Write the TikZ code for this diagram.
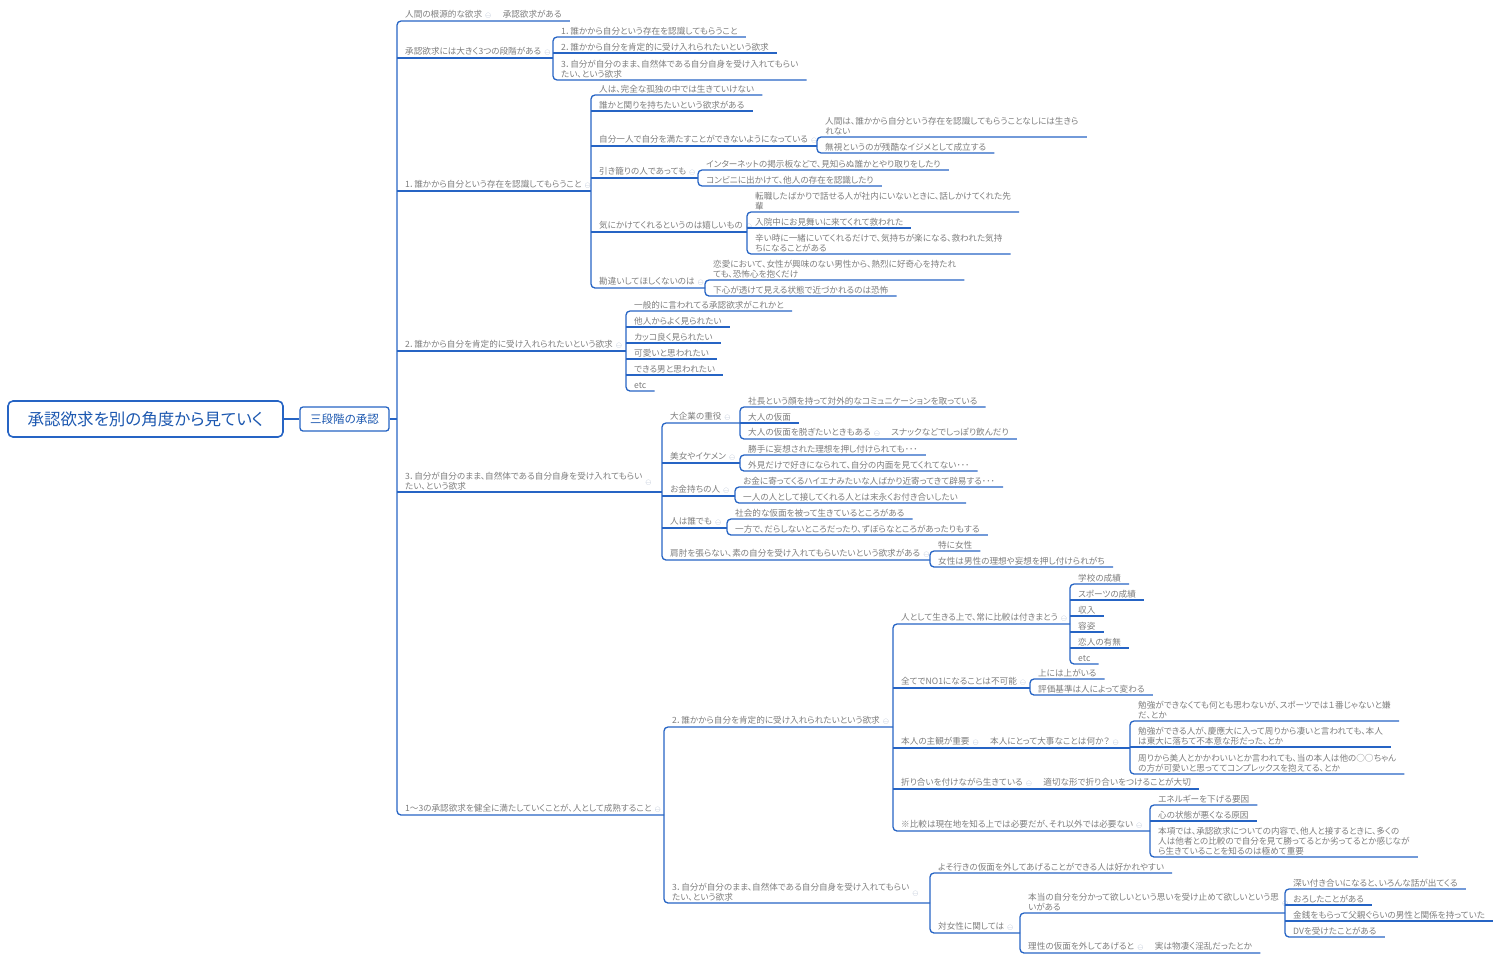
\documentclass[tikz,border=0pt]{standalone}
\usepackage{fontspec}
\setmainfont{Noto Sans CJK JP}[RawFeature=+palt]
\usetikzlibrary{positioning}

\definecolor{lineblue}{RGB}{38,100,196}
\definecolor{txtgray}{RGB}{125,125,125}
\definecolor{titleblue}{RGB}{28,88,176}
\definecolor{foldgray}{RGB}{165,178,200}

\newcommand\fold{\hspace{3pt}\textcolor{foldgray}{\scriptsize$\ominus$}}
\newcommand\foldlow{\hspace{3pt}\raisebox{-5pt}[0pt][0pt]{\textcolor{foldgray}{\scriptsize$\ominus$}}}

\tikzset{
  topic/.style={anchor=south west, inner xsep=8pt, inner ysep=2pt, text=txtgray, align=left,
    font=\fontsize{8.6}{10}\selectfont},
  link/.style={draw=lineblue, line width=1.3pt, rounded corners=4pt},
  rootbox/.style={draw=lineblue, line width=1.6pt, rounded corners=5pt, fill=white, text=titleblue,
    minimum width=275pt, minimum height=36pt, font=\fontsize{16.5}{18}\selectfont},
  midbox/.style={draw=lineblue, line width=1.3pt, rounded corners=3pt, fill=white, text=titleblue,
    minimum width=89pt, minimum height=24pt, font=\fontsize{11.5}{13}\selectfont}
}

\begin{document}
\begin{tikzpicture}[x=1pt, y=-1pt]
\useasboundingbox (0,0) rectangle (1497,962);

% centre
\node[rootbox] (root) at (145.5,419) {承認欲求を別の角度から見ていく};
\node[midbox] (mid) at (344.5,419) {三段階の承認};

% first level
\node[topic] (a1) at (397,21) {人間の根源的な欲求\fold};
\node[topic, base right=-5pt of a1] (a1c) {承認欲求がある};
\node[topic] (a2) at (397,58) {承認欲求には大きく3つの段階がある\fold};
\node[topic] (a3) at (397,191) {1．誰かから自分という存在を認識してもらうこと\fold};
\node[topic] (a4) at (397,351) {2．誰かから自分を肯定的に受け入れられたいという欲求\fold};
\node[topic] (a5) at (397,492) {3．自分が自分のまま、自然体である自分自身を受け入れてもらい\foldlow\\たい、という欲求};
\node[topic] (a6) at (397,815) {1～3の承認欲求を健全に満たしていくことが、人として成熟すること\fold};

% three steps
\node[topic] (b1) at (553,37) {1．誰かから自分という存在を認識してもらうこと};
\node[topic] (b2) at (553,53) {2．誰かから自分を肯定的に受け入れられたいという欲求};
\node[topic] (b3) at (553,80) {3．自分が自分のまま、自然体である自分自身を受け入れてもらい\\たい、という欲求};

% step 1
\node[topic] (c1) at (591,95) {人は、完全な孤独の中では生きていけない};
\node[topic] (c2) at (591,111) {誰かと関りを持ちたいという欲求がある};
\node[topic] (c3) at (591,146) {自分一人で自分を満たすことができないようになっている\fold};
\node[topic] (c3a) at (817,137) {人間は、誰かから自分という存在を認識してもらうことなしには生きら\\れない};
\node[topic] (c3b) at (817,153) {無視というのが残酷なイジメとして成立する};
\node[topic] (c4) at (591,178) {引き籠りの人であっても\fold};
\node[topic] (c4a) at (698,170) {インターネットの掲示板などで、見知らぬ誰かとやり取りをしたり};
\node[topic] (c4b) at (698,186) {コンビニに出かけて、他人の存在を認識したり};
\node[topic] (c5) at (591,232) {気にかけてくれるというのは嬉しいもの\fold};
\node[topic] (c5a) at (747,212) {転職したばかりで話せる人が社内にいないときに、話しかけてくれた先\\輩};
\node[topic] (c5b) at (747,228) {入院中にお見舞いに来てくれて救われた};
\node[topic] (c5c) at (747,254) {辛い時に一緒にいてくれるだけで、気持ちが楽になる、救われた気持\\ちになることがある};
\node[topic] (c6) at (591,288) {勘違いしてほしくないのは\fold};
\node[topic] (c6a) at (705,280) {恋愛において、女性が興味のない男性から、熱烈に好奇心を持たれ\\ても、恐怖心を抱くだけ};
\node[topic] (c6b) at (705,296) {下心が透けて見える状態で近づかれるのは恐怖};

% step 2
\node[topic] (d1) at (626,311) {一般的に言われてる承認欲求がこれかと};
\node[topic] (d2) at (626,327) {他人からよく見られたい};
\node[topic] (d3) at (626,343) {カッコ良く見られたい};
\node[topic] (d4) at (626,359) {可愛いと思われたい};
\node[topic] (d5) at (626,375) {できる男と思われたい};
\node[topic] (d6) at (626,391) {etc};

% step 3
\node[topic] (e1) at (662,423) {大企業の重役\fold};
\node[topic] (e1a) at (740,407) {社長という顔を持って対外的なコミュニケーションを取っている};
\node[topic] (e1b) at (740,423) {大人の仮面};
\node[topic] (e1c) at (740,439) {大人の仮面を脱ぎたいときもある\fold};
\node[topic, base right=-5pt of e1c] (e1d) {スナックなどでしっぽり飲んだり};
\node[topic] (e2) at (662,463) {美女やイケメン\fold};
\node[topic] (e2a) at (740,455) {勝手に妄想された理想を押し付けられても･･･};
\node[topic] (e2b) at (740,471) {外見だけで好きになられて、自分の内面を見てくれてない･･･};
\node[topic] (e3) at (662,496) {お金持ちの人\fold};
\node[topic] (e3a) at (735,487) {お金に寄ってくるハイエナみたいな人ばかり近寄ってきて辟易する･･･};
\node[topic] (e3b) at (735,503) {一人の人として接してくれる人とは末永くお付き合いしたい};
\node[topic] (e4) at (662,528) {人は誰でも\fold};
\node[topic] (e4a) at (727,519) {社会的な仮面を被って生きているところがある};
\node[topic] (e4b) at (727,535) {一方で、だらしないところだったり、ずぼらなところがあったりもする};
\node[topic] (e5) at (662,560) {肩肘を張らない、素の自分を受け入れてもらいたいという欲求がある\fold};
\node[topic] (e5a) at (930,551) {特に女性};
\node[topic] (e5b) at (930,567) {女性は男性の理想や妄想を押し付けられがち};

% maturity
\node[topic] (f1) at (664,727) {2．誰かから自分を肯定的に受け入れられたいという欲求\fold};
\node[topic] (g1) at (893,624) {人として生きる上で、常に比較は付きまとう\fold};
\node[topic] (g1a) at (1070,584) {学校の成績};
\node[topic] (g1b) at (1070,600) {スポーツの成績};
\node[topic] (g1c) at (1070,616) {収入};
\node[topic] (g1d) at (1070,632) {容姿};
\node[topic] (g1e) at (1070,648) {恋人の有無};
\node[topic] (g1f) at (1070,664) {etc};
\node[topic] (g2) at (893,688) {全てでNO1になることは不可能\fold};
\node[topic] (g2a) at (1030,679) {上には上がいる};
\node[topic] (g2b) at (1030,695) {評価基準は人によって変わる};
\node[topic] (g3) at (893,748) {本人の主観が重要\fold};
\node[topic, base right=-5pt of g3] (g3i) {本人にとって大事なことは何か？\fold};
\node[topic] (g3a) at (1130,721) {勉強ができなくても何とも思わないが、スポーツでは１番じゃないと嫌\\だ、とか};
\node[topic] (g3b) at (1130,747) {勉強ができる人が、慶應大に入って周りから凄いと言われても、本人\\は東大に落ちて不本意な形だった、とか};
\node[topic] (g3c) at (1130,774) {周りから美人とかかわいいとか言われても、当の本人は他の○○ちゃん\\の方が可愛いと思っててコンプレックスを抱えてる、とか};
\node[topic] (g4) at (893,789) {折り合いを付けながら生きている\fold};
\node[topic, base right=-5pt of g4] (g4i) {適切な形で折り合いをつけることが大切};
\node[topic] (g5) at (893,831) {※比較は現在地を知る上では必要だが、それ以外では必要ない\fold};
\node[topic] (g5a) at (1150,805) {エネルギーを下げる要因};
\node[topic] (g5b) at (1150,821) {心の状態が悪くなる原因};
\node[topic] (g5c) at (1150,857) {本項では、承認欲求についての内容で、他人と接するときに、多くの\\人は他者との比較ので自分を見て勝ってるとか劣ってるとか感じなが\\ら生きていることを知るのは極めて重要};
\node[topic] (f2) at (664,903) {3．自分が自分のまま、自然体である自分自身を受け入れてもらい\foldlow\\たい、という欲求};
\node[topic] (h1) at (930,873) {よそ行きの仮面を外してあげることができる人は好かれやすい};
\node[topic] (h2) at (930,933) {対女性に関しては\fold};
\node[topic] (h2a) at (1020,913) {本当の自分を分かって欲しいという思いを受け止めて欲しいという思\foldlow\\いがある};
\node[topic] (k1) at (1285,889) {深い付き合いになると、いろんな話が出てくる};
\node[topic] (k2) at (1285,905) {おろしたことがある};
\node[topic] (k3) at (1285,921) {金銭をもらって父親ぐらいの男性と関係を持っていた};
\node[topic] (k4) at (1285,937) {DVを受けたことがある};
\node[topic] (h2b) at (1020,953) {理性の仮面を外してあげると\fold};
\node[topic, base right=-5pt of h2b] (h2c) {実は物凄く淫乱だったとか};

% connectors
\draw[link] (root) -- (mid);
\draw[link] (mid.east) -- (a1.south west |- mid.east);
\draw[link] (a1c.south east |- a1.south) -- (a1.south west) -- (a6.south west) -- (f1.south west |- a6.south);
\draw[link] (a2.south west) -- (b1.south west |- a2.south);
\draw[link] (a3.south west) -- (c1.south west |- a3.south);
\draw[link] (a4.south west) -- (d1.south west |- a4.south);
\draw[link] (a5.south west) -- (e1.south west |- a5.south);

\draw[link] (b1.south east) -- (b1.south west) -- (b3.south west) -- (b3.south east);
\draw[link] (b2.south west) -- (b2.south east);

\draw[link] (c1.south east) -- (c1.south west) -- (c6.south west) -- (c6a.south west |- c6.south);
\draw[link] (c2.south west) -- (c2.south east);
\draw[link] (c3.south west) -- (c3a.south west |- c3.south);
\draw[link] (c4.south west) -- (c4a.south west |- c4.south);
\draw[link] (c5.south west) -- (c5a.south west |- c5.south);
\draw[link] (c3a.south east) -- (c3a.south west) -- (c3b.south west) -- (c3b.south east);
\draw[link] (c4a.south east) -- (c4a.south west) -- (c4b.south west) -- (c4b.south east);
\draw[link] (c5a.south east) -- (c5a.south west) -- (c5c.south west) -- (c5c.south east);
\draw[link] (c5b.south west) -- (c5b.south east);
\draw[link] (c6a.south east) -- (c6a.south west) -- (c6b.south west) -- (c6b.south east);

\draw[link] (d1.south east) -- (d1.south west) -- (d6.south west) -- (d6.south east);
\foreach \n in {d2,d3,d4,d5}
  \draw[link] (\n.south west) -- (\n.south east);

\draw[link] (e1a.south west |- e1.south) -- (e1.south west) -- (e5.south west) -- (e5a.south west |- e5.south);
\draw[link] (e2.south west) -- (e2a.south west |- e2.south);
\draw[link] (e3.south west) -- (e3a.south west |- e3.south);
\draw[link] (e4.south west) -- (e4a.south west |- e4.south);
\draw[link] (e1a.south east) -- (e1a.south west) -- (e1c.south west) -- (e1d.south east |- e1c.south);
\draw[link] (e1b.south west) -- (e1b.south east);
\foreach \n in {e2,e3,e4,e5}
  \draw[link] (\n a.south east) -- (\n a.south west) -- (\n b.south west) -- (\n b.south east);

\draw[link] (g1.south west |- f1.south) -- (f1.south west) -- (f2.south west) -- (h1.south west |- f2.south);
\draw[link] (g1a.south west |- g1.south) -- (g1.south west) -- (g5.south west) -- (g5a.south west |- g5.south);
\draw[link] (g2.south west) -- (g2a.south west |- g2.south);
\draw[link] (g3.south west) -- (g3a.south west |- g3.south);
\draw[link] (g4.south west) -- (g4i.south east |- g4.south);
\draw[link] (g1a.south east) -- (g1a.south west) -- (g1f.south west) -- (g1f.south east);
\foreach \n in {g1b,g1c,g1d,g1e}
  \draw[link] (\n.south west) -- (\n.south east);
\draw[link] (g2a.south east) -- (g2a.south west) -- (g2b.south west) -- (g2b.south east);
\draw[link] (g3a.south east) -- (g3a.south west) -- (g3c.south west) -- (g3c.south east);
\draw[link] (g3b.south west) -- (g3b.south east);
\draw[link] (g5a.south east) -- (g5a.south west) -- (g5c.south west) -- (g5c.south east);
\draw[link] (g5b.south west) -- (g5b.south east);

\draw[link] (h1.south east) -- (h1.south west) -- (h2.south west) -- (h2a.south west |- h2.south);
\draw[link] (k1.south west |- h2a.south) -- (h2a.south west) -- (h2b.south west) -- (h2c.south east |- h2b.south);
\draw[link] (k1.south east) -- (k1.south west) -- (k4.south west) -- (k4.south east);
\foreach \n in {k2,k3}
  \draw[link] (\n.south west) -- (\n.south east);
\end{tikzpicture}
\end{document}
